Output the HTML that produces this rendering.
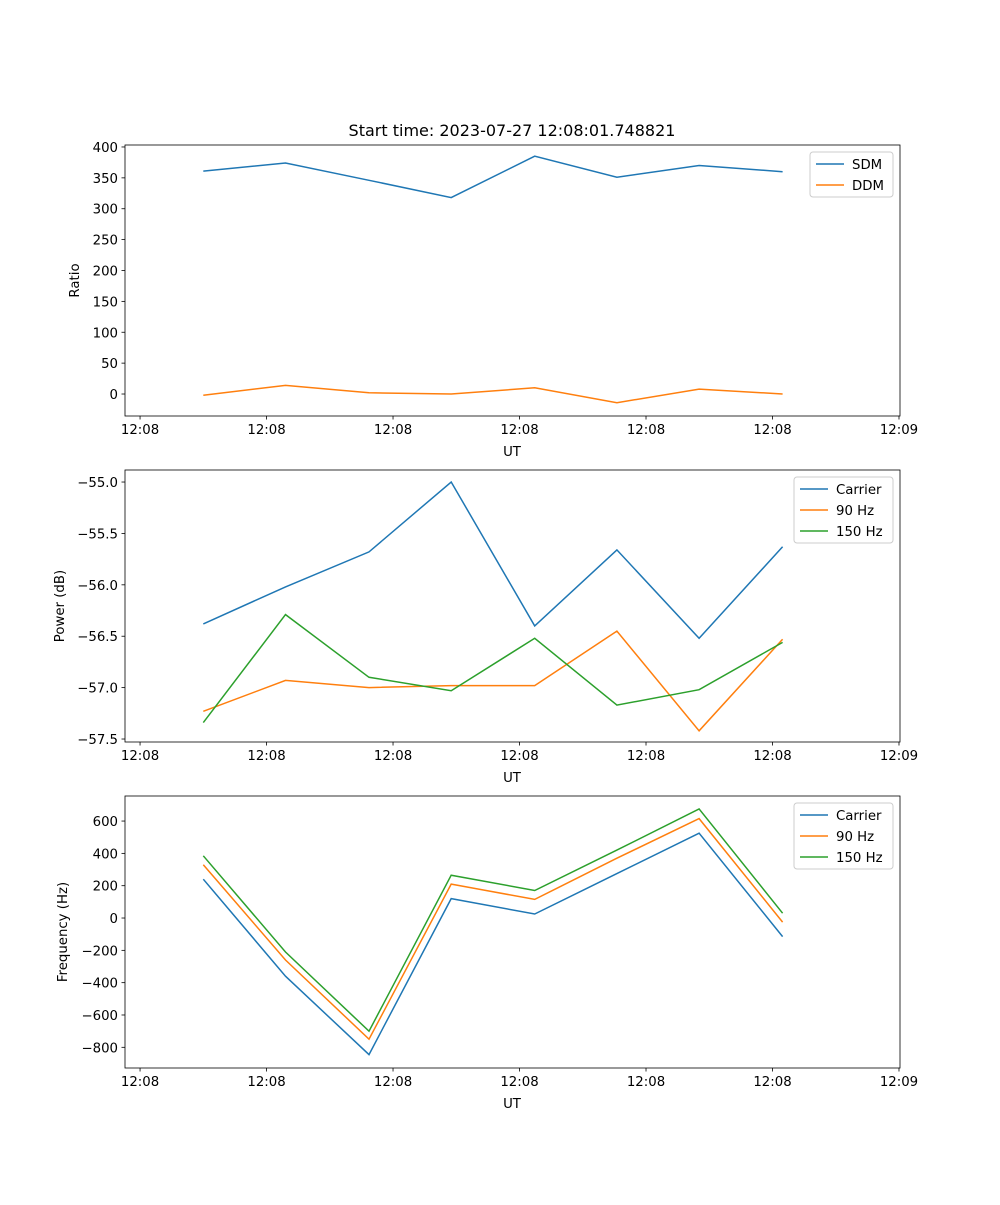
<!DOCTYPE html>
<html><head><meta charset="utf-8"><style>
body{margin:0;background:#fff}
svg{font-family:"DejaVu Sans","Liberation Sans",sans-serif;font-size:13.3px}
</style></head><body>
<svg id="fig" width="1000" height="1200" viewBox="0 0 1000 1200" xmlns="http://www.w3.org/2000/svg">
<rect width="1000" height="1200" fill="#fff"/>
<text x="512" y="136" text-anchor="middle" font-size="16px">Start time: 2023-07-27 12:08:01.748821</text>
</svg>
<script>
const times = [5.0, 11.5, 18.1, 24.6, 31.2, 37.7, 44.2, 50.8];
const xTicks = [0, 10, 20, 30, 40, 50, 60];
const xTickLabels = ["12:08","12:08","12:08","12:08","12:08","12:08","12:09"];
const sdm = [361, 374, 346, 318, 385, 351, 370, 360];
const ddm = [-2, 14, 2, 0, 10, -14, 8, 0];
const powCarrier = [-56.38, -56.02, -55.68, -55.0, -56.40, -55.66, -56.52, -55.63];
const pow90 = [-57.23, -56.93, -57.00, -56.98, -56.98, -56.45, -57.42, -56.53];
const pow150 = [-57.34, -56.29, -56.90, -57.03, -56.52, -57.17, -57.02, -56.56];
const freqCarrier = [240, -360, -845, 120, 25, 275, 525, -115];
const freq90 = [330, -260, -750, 210, 115, 370, 615, -25];
const freq150 = [385, -210, -700, 265, 170, 420, 675, 30];
const ratioTicks = [0, 50, 100, 150, 200, 250, 300, 350, 400];
const powTicks = [-57.5, -57.0, -56.5, -56.0, -55.5, -55.0];
const freqTicks = [-800, -600, -400, -200, 0, 200, 400, 600];

const NS = "http://www.w3.org/2000/svg";
const svg = document.getElementById('fig');
const C = ["#1f77b4", "#ff7f0e", "#2ca02c"];
function el(tag, attrs, parent) {
  const e = document.createElementNS(NS, tag);
  for (const k in attrs) e.setAttribute(k, attrs[k]);
  (parent || svg).appendChild(e);
  return e;
}
const L = 125, R = 900, xmin = -1.19, xmax = 60.08;
function X(t) { return L + (t - xmin) / (xmax - xmin) * (R - L); }

function panel(name, top, bottom, ymin, ymax, yTicks, yFmt, ylabel, series, names, legendW) {
  const g = el('g', {});
  
  
  const Y = v => bottom - (v - ymin) / (ymax - ymin) * (bottom - top);
  series.forEach((s, i) => {
    const p = el('polyline', {fill: 'none', stroke: C[i], 'stroke-width': 1.5,
      points: s.map((v, j) => X(times[j]).toFixed(1) + ',' + Y(v).toFixed(1)).join(' ')}, g);
    
    
  });
  const frame = el('rect', {x: L, y: top, width: R - L, height: bottom - top, fill: 'none', stroke: '#000', 'stroke-width': 0.8}, g);
  
  
  xTicks.forEach((t, i) => {
    const x = X(t);
    el('line', {x1: x, x2: x, y1: bottom, y2: bottom + 3.5, stroke: '#000', 'stroke-width': 0.8}, g);
    const tx = el('text', {x: x, y: bottom + 18, 'text-anchor': 'middle'}, g);
    tx.textContent = xTickLabels[i];
    
    
  });
  yTicks.forEach(v => {
    const y = Y(v);
    el('line', {x1: L - 3.5, x2: L, y1: y, y2: y, stroke: '#000', 'stroke-width': 0.8}, g);
    const ty = el('text', {x: L - 7, y: y + 5, 'text-anchor': 'end'}, g);
    ty.textContent = yFmt(v);
    
    
  });
  const xl = el('text', {x: 512, y: bottom + 40, 'text-anchor': 'middle'}, g);
  xl.textContent = 'UT';
  
  
  const cy = (top + bottom) / 2;
  const yl = el('text', {x: 0, y: 0, 'text-anchor': 'middle', transform: `translate(${ylabel[1]},${cy}) rotate(-90)`}, g);
  yl.textContent = ylabel[0];
  
  
  // legend
  const lx = R - 7 - legendW, ly = top + 7, lh = 21 * names.length + 3;
  const lg = el('g', {}, g);
  
  
  el('rect', {x: lx, y: ly, width: legendW, height: lh, rx: 3, fill: '#fff', 'fill-opacity': 0.8, stroke: '#ccc'}, lg);
  names.forEach((n, i) => {
    const yy = ly + 12 + i * 21;
    el('line', {x1: lx + 6, x2: lx + 34, y1: yy, y2: yy, stroke: C[i], 'stroke-width': 1.5}, lg);
    const t = el('text', {x: lx + 42, y: yy + 5}, lg);
    t.textContent = n;
    
    
  });
}
panel('ratio', 145, 416, -35.6, 403.2, ratioTicks, v => String(v), ['Ratio', 79], [sdm, ddm], ['SDM', 'DDM'], 83);
panel('power', 470, 742, -57.529, -54.883, powTicks, v => v.toFixed(1).replace('-', '\u2212'), ['Power (dB)', 64], [powCarrier, pow90, pow150], ['Carrier', '90 Hz', '150 Hz'], 99);
panel('frequency', 796, 1068, -928, 755, freqTicks, v => String(v).replace('-', '\u2212'), ['Frequency (Hz)', 67], [freqCarrier, freq90, freq150], ['Carrier', '90 Hz', '150 Hz'], 99);
</script>
</body></html>
